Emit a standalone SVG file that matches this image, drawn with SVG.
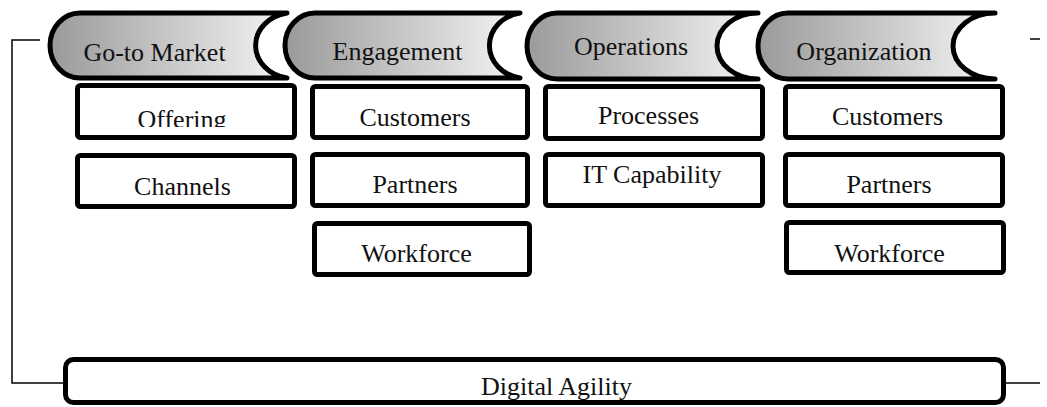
<svg xmlns="http://www.w3.org/2000/svg" width="1047" height="407" viewBox="0 0 1047 407">
  <defs>
    <linearGradient id="bannerFill" x1="0" y1="0" x2="1" y2="0">
      <stop offset="0" stop-color="#9a9a9a"/>
      <stop offset="1" stop-color="#f4f4f4"/>
    </linearGradient>
    <clipPath id="clipOffering">
      <rect x="77" y="85" width="218" height="42"/>
    </clipPath>
  </defs>
  <style>
    .banner { fill: url(#bannerFill); stroke: #000; stroke-width: 5; stroke-linejoin: round; stroke-linecap: round; }
    .box { fill: #fff; stroke: #000; stroke-width: 5; }
    .frame { fill: none; stroke: #000; stroke-width: 1.5; }
    text { font-family: "Liberation Serif", "Times New Roman", serif; font-size: 26px; fill: #111; text-anchor: middle; }
  </style>

  <!-- outer bracket lines -->
  <g id="connectors">
    <path class="frame" d="M40 40 H12 V383 H65"/>
    <path class="frame" d="M1030 39 H1040"/>
    <path class="frame" d="M1004 383 H1040"/>
  </g>

  <!-- category banners -->
  <g id="banner-go-to-market">
    <path class="banner" d="M80 13 H287 A38 33 0 0 0 287 78 H80 A30 32.5 0 0 1 80 13 Z"/>
    <text x="154.5" y="61">Go-to Market</text>
  </g>
  <g id="banner-engagement">
    <path class="banner" d="M315 13 H520 A37 33 0 0 0 520 78 H315 A30 32.5 0 0 1 315 13 Z"/>
    <text x="397.5" y="60">Engagement</text>
  </g>
  <g id="banner-operations">
    <path class="banner" d="M557 13 H758 A41 33 0 0 0 758 79 H557 A30 33 0 0 1 557 13 Z"/>
    <text x="631" y="55">Operations</text>
  </g>
  <g id="banner-organization">
    <path class="banner" d="M788 13 H995 A42 33 0 0 0 995 79 H788 A30 33 0 0 1 788 13 Z"/>
    <text x="864" y="60">Organization</text>
  </g>

  <!-- Go-to Market column -->
  <g id="box-offering">
    <rect class="box" x="77.5" y="85.5" width="217" height="52" rx="3"/>
    <text x="182" y="128" clip-path="url(#clipOffering)">Offering</text>
  </g>
  <g id="box-channels">
    <rect class="box" x="77.5" y="155.5" width="217" height="51" rx="3"/>
    <text x="182.5" y="195">Channels</text>
  </g>

  <!-- Engagement column -->
  <g id="box-eng-customers">
    <rect class="box" x="312.5" y="86.5" width="215" height="51" rx="3"/>
    <text x="415" y="126">Customers</text>
  </g>
  <g id="box-eng-partners">
    <rect class="box" x="312.5" y="154.5" width="215" height="51" rx="3"/>
    <text x="415" y="193">Partners</text>
  </g>
  <g id="box-eng-workforce">
    <rect class="box" x="314.5" y="223.5" width="215" height="51" rx="3"/>
    <text x="416.5" y="262">Workforce</text>
  </g>

  <!-- Operations column -->
  <g id="box-processes">
    <rect class="box" x="545.5" y="86.5" width="217" height="52" rx="3"/>
    <text x="648.5" y="124">Processes</text>
  </g>
  <g id="box-it-capability">
    <rect class="box" x="545.5" y="154.5" width="217" height="51" rx="3"/>
    <text x="652" y="183">IT Capability</text>
  </g>

  <!-- Organization column -->
  <g id="box-org-customers">
    <rect class="box" x="785.5" y="86.5" width="217" height="51" rx="3"/>
    <text x="887.5" y="125">Customers</text>
  </g>
  <g id="box-org-partners">
    <rect class="box" x="785.5" y="154.5" width="217" height="51" rx="3"/>
    <text x="889" y="193">Partners</text>
  </g>
  <g id="box-org-workforce">
    <rect class="box" x="786.5" y="222.5" width="217" height="50" rx="3"/>
    <text x="889.5" y="262">Workforce</text>
  </g>

  <!-- foundation bar -->
  <g id="box-digital-agility">
    <rect class="box" x="65.5" y="359.5" width="938" height="43" rx="8"/>
    <text x="556.5" y="395">Digital Agility</text>
  </g>
</svg>
